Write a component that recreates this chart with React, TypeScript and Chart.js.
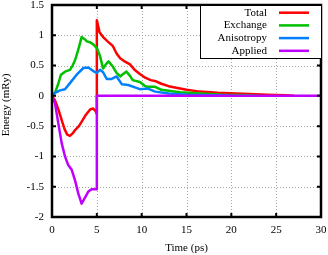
import React, { useEffect, useRef } from "react";
import { Chart, registerables } from "chart.js";

Chart.register(...registerables);

// ---- Data ----
const totalT = [0, 0.33, 0.7, 1.08, 1.4, 1.7, 2.0, 2.3, 2.6, 3.0, 3.3, 3.7, 4.0, 4.3, 4.6, 4.85, 5.0,
  5.0, 5.3, 5.7, 6.2, 6.8, 7.2, 7.6, 8.2, 8.7, 9.2, 9.8, 10.4, 11.0, 11.6, 12.2, 13.0, 14.0, 15.0, 16.5, 18.5, 20.5, 22.0, 24.0, 26.0, 27.0];
const totalE = [0, -0.07, -0.22, -0.40, -0.55, -0.64, -0.66, -0.62, -0.56, -0.50, -0.43, -0.33, -0.27, -0.22, -0.21, -0.25, -0.30,
  1.25, 1.05, 0.97, 0.90, 0.82, 0.70, 0.62, 0.56, 0.52, 0.43, 0.36, 0.30, 0.26, 0.24, 0.20, 0.16, 0.13, 0.10, 0.07, 0.05, 0.04, 0.03, 0.02, 0.01, 0];

const exchT = [0, 0.33, 0.7, 1.0, 1.45, 2.0, 2.3, 2.6, 3.0, 3.3, 3.6, 3.9, 4.3, 4.6, 5.0, 5.35, 5.7, 6.0, 6.3, 6.8, 7.2, 7.6, 8.0, 8.3, 8.7, 9.0, 9.8, 10.3, 10.6, 11.5, 12.2, 13.2, 14.3, 16.5, 19.0, 22.0, 23.0];
const exchE = [0, 0.05, 0.20, 0.35, 0.40, 0.43, 0.50, 0.60, 0.80, 0.97, 0.94, 0.90, 0.88, 0.85, 0.79, 0.66, 0.45, 0.52, 0.57, 0.48, 0.38, 0.32, 0.37, 0.40, 0.33, 0.26, 0.23, 0.17, 0.15, 0.15, 0.10, 0.08, 0.06, 0.04, 0.02, 0.01, 0];

const anisT = [0, 0.33, 0.9, 1.45, 2.0, 2.75, 3.5, 4.05, 4.6, 5.0, 5.35, 5.7, 6.1, 6.65, 7.2, 7.8, 8.5, 9.25, 9.8, 10.7, 11.5, 13.0, 15.0, 18.0, 20.0];
const anisE = [0, 0.05, 0.09, 0.11, 0.21, 0.35, 0.46, 0.47, 0.41, 0.38, 0.43, 0.39, 0.28, 0.28, 0.32, 0.19, 0.18, 0.14, 0.11, 0.12, 0.07, 0.04, 0.02, 0.01, 0];

const applT = [0, 0.33, 0.7, 1.08, 1.45, 1.8, 2.2, 2.56, 2.93, 3.3, 3.68, 4.05, 4.42, 5.0, 5.0, 30];
const applE = [0, -0.12, -0.45, -0.78, -1.0, -1.14, -1.22, -1.39, -1.61, -1.78, -1.68, -1.58, -1.54, -1.54, 0, 0];

const seriesNames = ["Total", "Exchange", "Anisotropy", "Applied"];
const seriesColors = ["#ff0000", "#00c000", "#0080ff", "#c000ff"];

const xTicks = [0, 5, 10, 15, 20, 25, 30];
const yTicks = [1.5, 1, 0.5, 0, -0.5, -1, -1.5, -2];

const xTitle = "Time (ps)";
const yTitle = "Energy (mRy)";

const FONT = '"Liberation Serif", "Times New Roman", serif';

function pts(t: number[], e: number[]) {
  return t.map((x, i) => ({ x, y: e[i] }));
}

const framePlugin = {
  id: "gnuFrame",
  beforeDatasetsDraw(chart: any) {
    const { ctx, chartArea: a, scales } = chart;
    const xs = scales.x, ys = scales.y;
    ctx.save();
    ctx.strokeStyle = "#a8a8a8";
    ctx.lineWidth = 1;
    ctx.setLineDash([1, 2]);
    xTicks.forEach((v) => {
      const px = Math.round(xs.getPixelForValue(v)) + 0.5;
      if (px <= a.left + 2 || px >= a.right - 2) return;
      ctx.beginPath();
      ctx.moveTo(px, a.top);
      ctx.lineTo(px, a.bottom);
      ctx.stroke();
    });
    yTicks.forEach((v) => {
      const py = Math.round(ys.getPixelForValue(v)) + 0.5;
      if (py <= a.top + 2 || py >= a.bottom - 2) return;
      ctx.beginPath();
      ctx.moveTo(a.left, py);
      ctx.lineTo(a.right, py);
      ctx.stroke();
    });
    ctx.restore();
  },
  afterDatasetsDraw(chart: any) {
    const { ctx, chartArea: a, scales } = chart;
    const xs = scales.x, ys = scales.y;
    ctx.save();
    // ticks (inward, mirrored)
    ctx.strokeStyle = "#000";
    ctx.lineWidth = 2;
    ctx.setLineDash([]);
    const tl = 4;
    xTicks.forEach((v) => {
      const px = xs.getPixelForValue(v);
      ctx.beginPath();
      ctx.moveTo(px, a.bottom);
      ctx.lineTo(px, a.bottom - tl);
      ctx.moveTo(px, a.top);
      ctx.lineTo(px, a.top + tl);
      ctx.stroke();
    });
    yTicks.forEach((v) => {
      const py = ys.getPixelForValue(v);
      ctx.beginPath();
      ctx.moveTo(a.left, py);
      ctx.lineTo(a.left + tl, py);
      ctx.moveTo(a.right, py);
      ctx.lineTo(a.right - tl, py);
      ctx.stroke();
    });
    // border
    ctx.lineWidth = 2.5;
    ctx.strokeRect(a.left, a.top, a.right - a.left, a.bottom - a.top);

    // legend
    const bx = 200, by = a.top, bw = a.right - 200, bh = 53;
    ctx.fillStyle = "#fff";
    ctx.fillRect(bx, by, bw, bh);
    ctx.lineWidth = 1;
    ctx.strokeRect(bx + 0.5, by + 0.5, bw, bh);
    ctx.font = "11px " + FONT;
    ctx.textAlign = "right";
    ctx.textBaseline = "middle";
    seriesNames.forEach((name, i) => {
      const y = by + 7.7 + i * 12.7;
      ctx.fillStyle = "#000";
      ctx.fillText(name, 267, y);
      ctx.strokeStyle = seriesColors[i];
      ctx.lineWidth = 2.5;
      ctx.beginPath();
      ctx.moveTo(279, y);
      ctx.lineTo(309, y);
      ctx.stroke();
    });

    // y title
    ctx.fillStyle = "#000";
    ctx.translate(6, 105);
    ctx.rotate(-Math.PI / 2);
    ctx.textAlign = "center";
    ctx.textBaseline = "middle";
    ctx.fillText(yTitle, 0, 0);
    ctx.restore();
  },
};

export default function App() {
  const ref = useRef<HTMLCanvasElement | null>(null);
  useEffect(() => {
    if (!ref.current) return;
    Chart.defaults.font.family = FONT;
    Chart.defaults.font.size = 11;
    Chart.defaults.color = "#000";
    const series = [pts(totalT, totalE), pts(exchT, exchE), pts(anisT, anisE), pts(applT, applE)];
    const chart = new Chart(ref.current, {
      type: "line",
      data: {
        datasets: series.map((d, i) => ({
          label: seriesNames[i],
          data: d,
          borderColor: seriesColors[i],
          backgroundColor: seriesColors[i],
          borderWidth: 2.5,
          pointRadius: 0,
          tension: 0,
          fill: false,
          borderJoinStyle: "round" as const,
          order: 4 - i,
        })),
      },
      options: {
        animation: false,
        responsive: false,
        devicePixelRatio: 1,
        layout: { padding: { top: 5, right: 7, bottom: 0, left: 0 } },
        plugins: { legend: { display: false }, tooltip: { enabled: false } },
        scales: {
          x: {
            type: "linear",
            min: 0,
            max: 30,
            afterBuildTicks: (s: any) => { s.ticks = xTicks.map((v) => ({ value: v })); },
            ticks: { padding: 7, maxRotation: 0, autoSkip: false, color: "#000", font: { size: 11, family: FONT }, callback: (v: any) => String(v) },
            grid: { display: false, drawTicks: false },
            border: { display: false },
            title: { display: true, text: xTitle, color: "#000", font: { size: 11, family: FONT }, padding: { top: 0, bottom: 0 } },
            afterFit: (s: any) => { s.height = 38; s.paddingLeft = 0; s.paddingRight = 0; },
          },
          y: {
            type: "linear",
            min: -2,
            max: 1.5,
            afterBuildTicks: (s: any) => { s.ticks = yTicks.map((v) => ({ value: v })); },
            ticks: { padding: 8, autoSkip: false, color: "#000", font: { size: 11, family: FONT }, callback: (v: any) => String(v) },
            grid: { display: false, drawTicks: false },
            border: { display: false },
            afterFit: (s: any) => { s.width = 52; s.paddingTop = 0; s.paddingBottom = 0; },
          },
        },
      },
      plugins: [framePlugin],
    });
    return () => chart.destroy();
  }, []);
  return (
    <div style={{ position: "fixed", left: 0, top: 0, width: 328, height: 255, background: "#fff" }}>
      <canvas ref={ref} width={328} height={255} style={{ display: "block" }} />
    </div>
  );
}
